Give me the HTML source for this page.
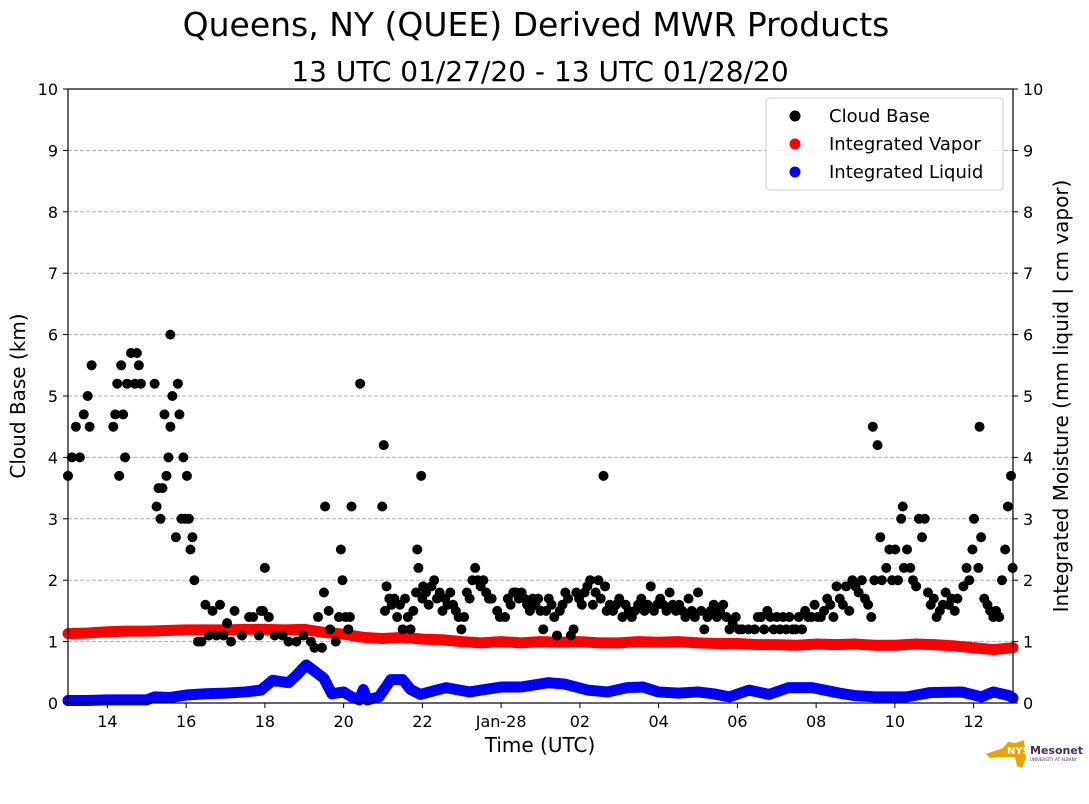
<!DOCTYPE html>
<html><head><meta charset="utf-8"><style>
body{margin:0;background:#fff;font-family:"DejaVu Sans","Liberation Sans",sans-serif}
svg{display:block}
</style></head><body>
<svg id="c" width="1089" height="804" font-family="DejaVu Sans, Liberation Sans, sans-serif">
<text x="536" y="36" font-size="33" text-anchor="middle">Queens, NY (QUEE) Derived MWR Products</text>
<text x="540" y="81" font-size="28" text-anchor="middle">13 UTC 01/27/20 - 13 UTC 01/28/20</text>
<g id="grid"></g><g id="vap"></g><g id="liq"></g><g id="cb"></g><g id="axes"></g>
<text x="540" y="752" font-size="20" text-anchor="middle">Time (UTC)</text>
<text transform="translate(25,396) rotate(-90)" font-size="20" text-anchor="middle">Cloud Base (km)</text>
<text transform="translate(1068,396) rotate(-90)" font-size="20" text-anchor="middle">Integrated Moisture (mm liquid | cm vapor)</text>
<g>
<rect x="766" y="98" width="237" height="92" rx="3" fill="#fff" fill-opacity="0.8" stroke="#ccc"/>
<circle cx="795" cy="116" r="5.5" fill="#000"/><text x="829" y="122" font-size="18">Cloud Base</text>
<circle cx="795" cy="144" r="5.5" fill="#f00"/><text x="829" y="150" font-size="18">Integrated Vapor</text>
<circle cx="795" cy="172" r="5.5" fill="#00f"/><text x="829" y="178" font-size="18">Integrated Liquid</text>
</g>
<g>
<path d="M986 754 L1003 748 L1008 742 L1016 743 L1024 740 L1026 758 L1022 768 L1017 766 L1015 757 L1000 757 L990 758 Z" fill="#e8a400"/>
<text x="1007" y="754" font-size="10" font-weight="bold" fill="#fff">NYS</text>
<text x="1030" y="754" font-size="11" font-weight="bold" fill="#4b2a6b">Mesonet</text>
<text x="1030" y="761" font-size="4" fill="#4b2a6b">UNIVERSITY AT ALBANY</text>
</g>
</svg>
<script>
const cbHours=[13.0,13.1,13.2,13.3,13.4,13.5,13.55,13.6,14.15,14.2,14.25,14.3,14.35,14.4,14.45,14.5,14.6,14.7,14.75,14.8,14.85,15.2,15.25,15.3,15.35,15.4,15.45,15.5,15.55,15.6,15.6,15.65,15.74,15.79,15.83,15.88,15.93,15.97,16.02,16.07,16.11,16.16,16.21,16.30,16.39,16.49,16.58,16.67,16.77,16.86,16.95,17.04,17.14,17.23,17.42,17.6,17.7,17.85,18.0,17.9,17.95,18.1,18.25,18.45,18.6,18.8,18.98,19.17,19.26,19.35,19.45,19.5,19.53,19.62,19.66,19.8,19.88,19.93,19.97,20.05,20.12,20.16,20.2,20.42,20.98,21.02,21.05,21.09,21.16,21.22,21.29,21.36,21.43,21.50,21.56,21.63,21.70,21.77,21.84,21.87,21.90,21.97,22.0,22.02,22.09,22.16,22.23,22.30,22.37,22.44,22.51,22.58,22.64,22.71,22.78,22.85,22.92,22.99,23.06,23.13,23.20,23.27,23.34,23.41,23.48,23.55,23.62,23.69,23.76,23.90,23.97,24.10,24.17,24.24,24.31,24.38,24.45,24.52,24.59,24.66,24.73,24.80,24.87,24.94,25.0,25.07,25.14,25.21,25.28,25.35,25.42,25.49,25.56,25.63,25.70,25.77,25.84,25.91,25.98,26.05,26.12,26.19,26.26,26.33,26.40,26.47,26.53,26.6,26.64,26.68,26.76,26.84,26.92,27.0,27.08,27.16,27.24,27.32,27.40,27.48,27.56,27.64,27.72,27.80,27.88,27.96,28.04,28.12,28.20,28.28,28.36,28.44,28.52,28.60,28.68,28.76,28.84,28.92,29.0,29.08,29.16,29.24,29.32,29.40,29.48,29.56,29.64,29.72,29.80,29.88,29.96,30.04,30.12,30.28,30.44,30.52,30.60,30.68,30.76,30.84,30.92,31.0,31.08,31.16,31.24,31.32,31.40,31.48,31.56,31.64,31.72,31.80,31.88,31.96,32.04,32.12,32.20,32.28,32.36,32.44,32.52,32.60,32.68,32.76,32.84,32.92,33.0,33.08,33.16,33.24,33.32,33.40,33.44,33.48,33.56,33.63,33.67,33.78,33.86,33.93,34.01,34.08,34.16,34.20,34.23,34.31,34.39,34.46,34.54,34.61,34.69,34.76,34.84,34.91,34.99,35.06,35.14,35.22,35.29,35.37,35.44,35.52,35.59,35.74,35.82,35.89,35.97,36.01,36.15,36.12,36.19,36.27,36.35,36.42,36.50,36.57,36.65,36.72,36.80,36.87,36.95,36.99];
const cbValues=[3.7,4.0,4.5,4.0,4.7,5.0,4.5,5.5,4.5,4.7,5.2,3.7,5.5,4.7,4.0,5.2,5.7,5.2,5.7,5.5,5.2,5.2,3.2,3.5,3.0,3.5,4.7,3.7,4.0,4.5,6.0,5.0,2.7,5.2,4.7,3.0,4.0,3.0,3.7,3.0,2.5,2.7,2.0,1.0,1.0,1.6,1.1,1.5,1.1,1.6,1.1,1.3,1.0,1.5,1.1,1.4,1.4,1.1,2.2,1.5,1.5,1.4,1.1,1.1,1.0,1.0,1.1,1.0,0.9,1.4,0.9,1.8,3.2,1.5,1.2,1.0,1.4,2.5,2.0,1.4,1.2,1.4,3.2,5.2,3.2,4.2,1.5,1.9,1.7,1.6,1.7,1.4,1.6,1.2,1.7,1.4,1.2,1.5,1.8,2.5,2.2,3.7,1.7,1.9,1.8,1.6,1.9,2.0,1.7,1.8,1.5,1.7,1.6,1.8,1.6,1.5,1.4,1.2,1.4,1.8,1.7,2.0,2.2,2.0,1.9,2.0,1.8,1.7,1.7,1.5,1.4,1.4,1.7,1.6,1.8,1.8,1.7,1.8,1.7,1.6,1.5,1.7,1.6,1.7,1.5,1.2,1.5,1.7,1.6,1.4,1.1,1.5,1.6,1.8,1.7,1.1,1.2,1.8,1.7,1.6,1.8,1.9,2.0,1.6,1.8,2.0,1.7,3.7,1.9,1.5,1.6,1.5,1.6,1.7,1.4,1.6,1.5,1.4,1.5,1.6,1.7,1.5,1.6,1.9,1.5,1.6,1.7,1.6,1.5,1.8,1.6,1.5,1.6,1.5,1.4,1.7,1.5,1.4,1.8,1.5,1.2,1.4,1.5,1.6,1.4,1.5,1.6,1.4,1.2,1.3,1.4,1.2,1.2,1.2,1.2,1.4,1.4,1.2,1.5,1.4,1.2,1.4,1.2,1.4,1.2,1.4,1.2,1.2,1.4,1.2,1.5,1.4,1.4,1.6,1.4,1.4,1.5,1.7,1.6,1.4,1.9,1.7,1.6,1.9,1.5,2.0,1.9,1.8,2.0,1.7,1.6,1.4,4.5,2.0,4.2,2.7,2.0,2.2,2.5,2.0,2.5,2.0,3.0,3.2,2.2,2.5,2.2,2.0,1.9,3.0,2.7,3.0,1.8,1.6,1.7,1.4,1.5,1.6,1.8,1.6,1.7,1.5,1.7,1.9,2.2,2.0,2.5,3.0,4.5,2.2,2.7,1.7,1.6,1.5,1.4,1.5,1.4,2.0,2.5,3.2,3.7,2.2];
const vapHours=[13,13.5,14,14.5,15,15.5,16,16.5,17,17.5,18,18.5,19,19.5,20,20.5,21,21.5,22,22.5,23,23.5,24,24.5,25,25.5,26,26.5,27,27.5,28,28.5,29,29.5,30,30.5,31,31.5,32,32.5,33,33.5,34,34.5,35,35.5,36,36.5,37];
const vapValues=[1.13,1.14,1.16,1.17,1.17,1.18,1.19,1.19,1.19,1.2,1.2,1.19,1.2,1.15,1.12,1.07,1.05,1.07,1.04,1.03,1.0,0.98,1.0,0.98,1.0,0.99,1.0,0.98,0.98,1.0,0.99,1.0,0.98,0.97,0.97,0.95,0.95,0.94,0.96,0.95,0.96,0.94,0.94,0.96,0.95,0.93,0.9,0.87,0.9];
const liqHours=[13,13.5,14,14.5,15,15.2,15.6,16,16.5,17,17.5,17.9,18.2,18.6,18.8,19.05,19.3,19.5,19.7,20.0,20.2,20.4,20.5,20.6,20.9,21.2,21.5,21.7,21.95,22.3,22.6,23.2,23.6,24.0,24.5,25.2,25.6,26.2,26.7,27.2,27.6,28.0,28.5,29.0,29.4,29.8,30.3,30.8,31.3,31.9,32.6,33.0,33.5,34.3,34.9,35.7,36.2,36.5,36.9,37];
const liqValues=[0.04,0.04,0.05,0.05,0.05,0.1,0.09,0.13,0.15,0.16,0.18,0.21,0.37,0.33,0.45,0.62,0.5,0.4,0.15,0.18,0.1,0.05,0.22,0.05,0.1,0.38,0.38,0.22,0.14,0.2,0.25,0.18,0.22,0.26,0.26,0.33,0.31,0.21,0.18,0.25,0.26,0.18,0.16,0.18,0.15,0.1,0.21,0.14,0.25,0.25,0.16,0.12,0.1,0.1,0.17,0.18,0.1,0.18,0.12,0.08];
const yTicks=[0,1,2,3,4,5,6,7,8,9,10];
const xTickHours=[14,16,18,20,22,24,26,28,30,32,34,36];
const xTickLabels=["14","16","18","20","22","Jan-28","02","04","06","08","10","12"];
const NS="http://www.w3.org/2000/svg";
const L=68,R=1013,T=89,B=703;
const X=h=>L+(h-13)/24*(R-L);
const Y=v=>B-v/10*(B-T);
function mk(t,a,p){const e=document.createElementNS(NS,t);for(const k in a)e.setAttribute(k,a[k]);p.appendChild(e);return e;}
const grid=document.getElementById('grid'),axes=document.getElementById('axes');
yTicks.forEach(v=>{
 if(v>0&&v<10){const g=mk('line',{x1:L,x2:R,y1:Y(v),y2:Y(v),stroke:'#b0b0b0','stroke-dasharray':'4,2','stroke-width':1},grid);
 
 }
 mk('line',{x1:L-5,x2:L,y1:Y(v),y2:Y(v),stroke:'#000'},axes);
 mk('line',{x1:R,x2:R+5,y1:Y(v),y2:Y(v),stroke:'#000'},axes);
 const t1=mk('text',{x:L-10,y:Y(v)+6,'font-size':16,'text-anchor':'end'},axes);t1.textContent=v;
 
 
 const t2=mk('text',{x:R+10,y:Y(v)+6,'font-size':16},axes);t2.textContent=v;
 
 
});
xTickHours.forEach((h,i)=>{
 mk('line',{x1:X(h),x2:X(h),y1:B,y2:B+5,stroke:'#000'},axes);
 const t=mk('text',{x:X(h),y:B+24,'font-size':16,'text-anchor':'middle'},axes);t.textContent=xTickLabels[i];
 
 
});
const fr=mk('rect',{x:L,y:T,width:R-L,height:B-T,fill:'none',stroke:'#000','stroke-width':1.2},axes);


function band(hs,vs,col,gid,name){
 const g=document.getElementById(gid);
 const pts=hs.map((h,i)=>X(h)+','+Y(vs[i])).join(' ');
 const pl=mk('polyline',{points:pts,fill:'none',stroke:col,'stroke-width':11,'stroke-linejoin':'round','stroke-linecap':'round'},g);
 
 
}
band(vapHours,vapValues,'#f00','vap','integrated-vapor-series');
band(liqHours,liqValues,'#00f','liq','integrated-liquid-series');
const cb=document.getElementById('cb');
cbHours.forEach((h,i)=>{
 const c=mk('circle',{cx:X(h),cy:Y(cbValues[i]),r:5,fill:'#000'},cb);
 
 
});
</script>
</body></html>
